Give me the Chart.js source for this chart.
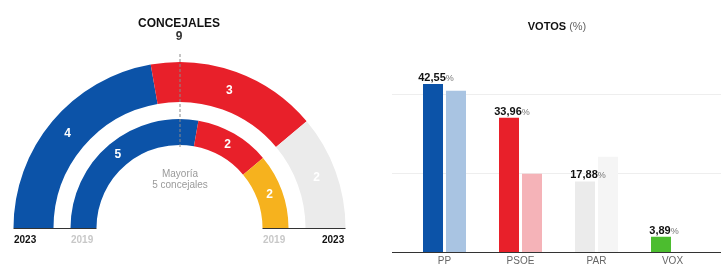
<!DOCTYPE html>
<html>
<head>
<meta charset="utf-8">
<script src="https://cdn.jsdelivr.net/npm/chart.js@4"></script>
<style>
  html, body { margin: 0; padding: 0; background: #fff; }
  #wrap { position: relative; width: 721px; height: 267px; overflow: hidden; font-family: "Liberation Sans", Arial, sans-serif; }
  canvas { position: absolute; top: 0; }
  .t { position: absolute; white-space: nowrap; line-height: 1; }
</style>
</head>
<body>
<div id="wrap">
  <canvas id="seats" width="360" height="267" style="left:0"></canvas>
  <canvas id="votes" width="361" height="267" style="left:360px"></canvas>
  <div class="t" style="left:179px;top:17px;transform:translateX(-50%);font-size:12px;font-weight:bold;color:#111">CONCEJALES</div>
  <div class="t" style="left:179px;top:30px;transform:translateX(-50%);font-size:12px;font-weight:bold;color:#333">9</div>
  <div class="t" style="left:180px;top:168px;transform:translateX(-50%);font-size:10px;color:#9a9a9a;text-align:center;line-height:11px">Mayoría<br>5 concejales</div>
  <div class="t" style="left:14px;top:235px;font-size:10px;font-weight:bold;color:#111">2023</div>
  <div class="t" style="left:71px;top:235px;font-size:10px;font-weight:bold;color:#c8c8c8">2019</div>
  <div class="t" style="left:263px;top:235px;font-size:10px;font-weight:bold;color:#c8c8c8">2019</div>
  <div class="t" style="left:322px;top:235px;font-size:10px;font-weight:bold;color:#111">2023</div>
  <div class="t" style="left:557px;top:21px;transform:translateX(-50%);font-size:11px;font-weight:bold;color:#111">VOTOS <span style="font-weight:normal;color:#666">(%)</span></div>
</div>
<script>
// concejales
const parties = ['PP', 'PSOE', 'PAR'];
const seats2023 = [4, 3, 2];
const seats2019 = [5, 2, 2];
const seatColors2023 = ['#0c53a8', '#e8202a', '#ebebeb'];
const seatColors2019 = ['#0c53a8', '#e8202a', '#f6b21e'];

// votos
const voteParties = ['PP', 'PSOE', 'PAR', 'VOX'];
const votes2023 = [42.55, 33.96, 17.88, 3.89];
const votes2019 = [40.8, 19.8, 24.1, 0];
const voteLabels = ['42,55', '33,96', '17,88', '3,89'];
const voteColors2023 = ['#0c53a8', '#e8202a', '#ebebeb', '#4cbd2f'];
const voteColors2019 = ['#a9c4e2', '#f5b3b8', '#f5f5f5', '#f5f5f5'];

const arcLabels = {
  id: 'arcLabels',
  afterDatasetsDraw(chart) {
    const ctx = chart.ctx;
    ctx.save();
    ctx.font = 'bold 12px "Liberation Sans", Arial, sans-serif';
    ctx.textAlign = 'center';
    ctx.textBaseline = 'middle';
    [0, 2].forEach(di => {
      const meta = chart.getDatasetMeta(di);
      meta.data.forEach((arc, i) => {
        const p = arc.tooltipPosition();
        ctx.fillStyle = '#fff';
        ctx.fillText(String(chart.data.datasets[di].data[i]), p.x, p.y);
      });
    });
    // majority dashed line and base lines
    const arc0 = chart.getDatasetMeta(0).data[0];
    const cx = arc0.x, cy = arc0.y, R = arc0.outerRadius;
    const inner = chart.getDatasetMeta(2).data[0].innerRadius;
    ctx.strokeStyle = '#8a8a8a';
    ctx.lineWidth = 1;
    ctx.setLineDash([3, 2]);
    ctx.beginPath();
    ctx.moveTo(cx + 0.5, cy - R - 8);
    ctx.lineTo(cx + 0.5, cy - inner + 2);
    ctx.stroke();
    ctx.setLineDash([]);
    ctx.strokeStyle = '#333';
    ctx.beginPath();
    ctx.moveTo(cx - R, cy + 0.5);
    ctx.lineTo(cx - inner, cy + 0.5);
    ctx.moveTo(cx + inner, cy + 0.5);
    ctx.lineTo(cx + R, cy + 0.5);
    ctx.stroke();
    ctx.restore();
  }
};

new Chart(document.getElementById('seats'), {
  type: 'doughnut',
  data: {
    labels: parties,
    datasets: [
      { data: seats2023, backgroundColor: seatColors2023, borderWidth: 0, weight: 40 },
      { data: [1], backgroundColor: ['rgba(0,0,0,0)'], borderWidth: 0, weight: 17 },
      { data: seats2019, backgroundColor: seatColors2019, borderWidth: 0, weight: 26 }
    ]
  },
  options: {
    responsive: false,
    animation: false,
    rotation: -90,
    circumference: 180,
    cutout: '50%',
    layout: { padding: { left: 13.5, right: 14.5, top: 62, bottom: 39 } },
    plugins: { legend: { display: false }, tooltip: { enabled: false } }
  },
  plugins: [arcLabels]
});

const barExtras = {
  id: 'barExtras',
  beforeDatasetsDraw(chart) {
    const ctx = chart.ctx;
    const y = chart.scales.y;
    ctx.save();
    ctx.strokeStyle = '#eeeeee';
    ctx.lineWidth = 1;
    [20, 40].forEach(v => {
      const py = Math.round(y.getPixelForValue(v)) + 0.5;
      ctx.beginPath();
      ctx.moveTo(32, py);
      ctx.lineTo(361, py);
      ctx.stroke();
    });
    ctx.restore();
  },
  afterDatasetsDraw(chart) {
    const ctx = chart.ctx;
    const y = chart.scales.y;
    ctx.save();
    const py = Math.round(y.getPixelForValue(0)) + 0.5;
    ctx.strokeStyle = '#333';
    ctx.beginPath();
    ctx.moveTo(32, py);
    ctx.lineTo(361, py);
    ctx.stroke();
    const meta = chart.getDatasetMeta(0);
    ctx.textBaseline = 'alphabetic';
    meta.data.forEach((bar, i) => {
      const num = voteLabels[i];
      ctx.font = 'bold 11px "Liberation Sans", Arial, sans-serif';
      const w1 = ctx.measureText(num).width;
      ctx.font = '9px "Liberation Sans", Arial, sans-serif';
      const w2 = ctx.measureText('%').width;
      let x = bar.x - (w1 + w2) / 2 + 3;
      const ty = bar.y - 3;
      ctx.font = 'bold 11px "Liberation Sans", Arial, sans-serif';
      ctx.fillStyle = '#111';
      ctx.fillText(num, x, ty);
      ctx.font = '9px "Liberation Sans", Arial, sans-serif';
      ctx.fillStyle = '#777';
      ctx.fillText('%', x + w1, ty);
    });
    ctx.restore();
  }
};

new Chart(document.getElementById('votes'), {
  type: 'bar',
  data: {
    labels: voteParties,
    datasets: [
      { data: votes2023, backgroundColor: voteColors2023, borderWidth: 0 },
      { data: votes2019, backgroundColor: voteColors2019, borderWidth: 0 }
    ]
  },
  options: {
    responsive: false,
    animation: false,
    categoryPercentage: 0.605,
    barPercentage: 0.87,
    layout: { padding: { left: 46.5, right: 10.5, top: 0, bottom: 0 } },
    scales: {
      x: {
        grid: { display: false, drawTicks: false },
        border: { display: false },
        ticks: { color: '#666', font: { size: 10, family: '"Liberation Sans", Arial, sans-serif' }, padding: 3 },
        afterFit(scale) { scale.height = 15; }
      },
      y: {
        display: false,
        min: 0,
        max: 63.8
      }
    },
    plugins: { legend: { display: false }, tooltip: { enabled: false } }
  },
  plugins: [barExtras]
});
</script>
</body>
</html>
